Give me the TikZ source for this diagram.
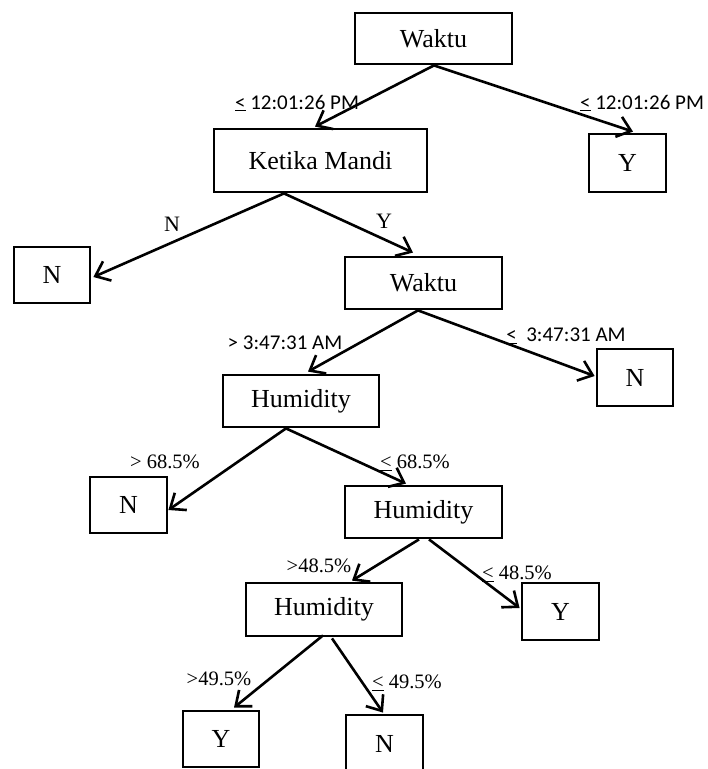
\documentclass[tikz,border=0pt]{standalone}
\usepackage{fontspec}
\setmainfont{Liberation Serif}
\newfontfamily\calfont{Carlito}
\usetikzlibrary{arrows.meta}
\begin{document}
\begin{tikzpicture}[x=1pt,y=-1pt,
  box/.style={draw,line width=2.8pt,inner sep=0pt,font=\fontsize{26}{30}\selectfont},
  edge/.style={line width=2.6pt,-{Straight Barb[length=13pt,width=21pt,line width=2.6pt]}},
  tlab/.style={inner sep=0pt,font=\calfont\fontsize{21}{25}\selectfont},
  plab/.style={inner sep=0pt,font=\fontsize{20.5}{24}\selectfont},
  ylab/.style={inner sep=0pt,font=\fontsize{22}{26}\selectfont}]
\useasboundingbox (0,0) rectangle (708,769);
% nodes
\node[box,minimum width=157pt,minimum height=51pt] (W1) at (433.5,38.5) {Waktu};
\node[box,minimum width=213pt,minimum height=63pt] (KM) at (320.5,160.5) {Ketika Mandi};
\node[box,minimum width=77pt,minimum height=58pt] (Y1) at (627.5,163) {Y};
\node[box,minimum width=76pt,minimum height=56pt] (N1) at (52,275) {N};
\node[box,minimum width=157pt,minimum height=52pt] (W2) at (423.5,283) {Waktu};
\node[box,minimum width=156pt,minimum height=52pt] (H1) at (301,401) {Humidity};
\node[box,minimum width=76pt,minimum height=57pt] (N2) at (635,377.5) {N};
\node[box,minimum width=77pt,minimum height=56pt] (N3) at (128.5,505) {N};
\node[box,minimum width=157pt,minimum height=52pt] (H2) at (423.5,512) {Humidity};
\node[box,minimum width=156pt,minimum height=53pt] (H3) at (324,609.5) {Humidity};
\node[box,minimum width=77pt,minimum height=57pt] (Y2) at (560.5,611.5) {Y};
\node[box,minimum width=76pt,minimum height=56pt] (Y3) at (221,739) {Y};
\node[box,minimum width=77pt,minimum height=57pt] (N4) at (384.5,743.5) {N};
% edges
\draw[edge] ([xshift=0.5pt]W1.south) -- ([xshift=-5.5pt,yshift=1pt]KM.north);
\draw[edge] ([xshift=0.5pt]W1.south) -- ([xshift=5.5pt,yshift=1pt]Y1.north);
\draw[edge] ([xshift=-36.5pt]KM.south) -- ([xshift=2pt,yshift=-2pt]N1.east);
\draw[edge] ([xshift=-36.5pt]KM.south) -- ([xshift=-10.5pt,yshift=3pt]W2.north);
\draw[edge] ([xshift=-5.5pt]W2.south) -- ([xshift=7pt,yshift=2pt]H1.north);
\draw[edge] ([xshift=-5.5pt]W2.south) -- ([xshift=-1pt,yshift=1.5pt]N2.west);
\draw[edge] ([xshift=-15pt]H1.south) -- ([yshift=-5pt]N3.east);
\draw[edge] ([xshift=-15pt]H1.south) -- ([xshift=-17.5pt,yshift=1pt]H2.north);
\draw[edge] ([xshift=-4.5pt]H2.south) -- ([xshift=28pt,yshift=1pt]H3.north);
\draw[edge] ([xshift=5.5pt]H2.south) -- ([xshift=-1pt,yshift=3.5pt]Y2.west);
\draw[edge] ([xshift=-1pt,yshift=2pt]H3.south) -- ([xshift=13pt,yshift=2pt]Y3.north);
\draw[edge] ([xshift=8pt,yshift=-1pt]H3.south) -- ([xshift=-1.5pt,yshift=1pt]N4.north);
% labels
\node[tlab] (l1) at (297,103) {\underline{<} 12:01:26 PM};
\node[tlab] (l2) at (642,103) {\underline{<} 12:01:26 PM};
\node[ylab] (l3) at (172,224) {N};
\node[ylab] (l4) at (384,221) {Y};
\node[tlab] (l5) at (285,343) {> 3:47:31 AM};
\node[tlab] (l6) at (566,336) {\underline{<}\ \ 3:47:31 AM};
\node[plab] (l7) at (165,462) {> 68.5\%};
\node[plab] (l8) at (415,463) {\underline{<} 68.5\%};
\node[plab] (l9) at (319,566) {>48.5\%};
\node[plab] (l10) at (517,574) {\underline{<} 48.5\%};
\node[plab] (l11) at (219,679) {>49.5\%};
\node[plab] (l12) at (407,683) {\underline{<} 49.5\%};
\end{tikzpicture}
\end{document}
